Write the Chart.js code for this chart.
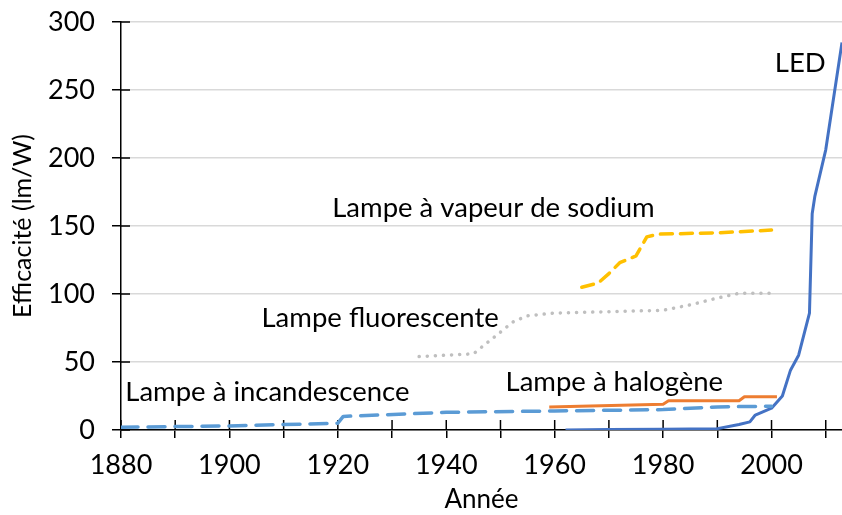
<!DOCTYPE html>
<html>
<head>
<meta charset="utf-8">
<script src="https://cdn.jsdelivr.net/npm/chart.js@4.4.1/dist/chart.umd.min.js"></script>
<style>
  body { margin: 0; background: #fff; }
  #wrap { width: 842px; height: 515px; }
</style>
</head>
<body>
<div id="wrap"><canvas id="chart"></canvas></div>
<script>
// données (année, efficacité en lm/W)
const incandYears = [1880, 1900, 1920, 1921, 1940, 1960, 1980, 1990, 2000];
const incandValues = [2, 3, 5, 10, 13, 14, 15, 17, 17.5];

const halogenYears = [1959, 1980, 1981, 1994, 1995, 2001];
const halogenValues = [17, 19, 21.5, 21.5, 24.5, 24.5];

const fluoYears = [1935, 1940, 1945, 1947.5, 1950, 1952.5, 1955, 1960, 1970, 1980, 1985, 1990, 1994, 2000];
const fluoValues = [54, 55, 56, 64, 72, 80, 84, 86, 87, 88, 92, 97, 100.5, 100.5];

const sodiumYears = [1965, 1968, 1970, 1972, 1975, 1977, 1979, 1990, 2000];
const sodiumValues = [105, 108, 115, 123, 128, 142, 144, 145, 147];

const ledYears = [1962, 1970, 1980, 1990, 1994, 1996, 1997, 2000, 2002, 2003.5, 2005, 2007, 2007.5, 2008, 2010, 2013];
const ledValues = [0, 0.3, 0.5, 1, 4, 6, 11, 16, 25, 44, 55, 86, 159, 172, 206, 285];

const xTickYears = [1880, 1890, 1900, 1910, 1920, 1930, 1940, 1950, 1960, 1970, 1980, 1990, 2000, 2010];
const yTickValues = [0, 50, 100, 150, 200, 250, 300];

const toPoints = (xs, ys) => xs.map((x, i) => ({ x: x, y: ys[i] }));

const FONT = 'Lato, "Open Sans", sans-serif';

// étiquettes posées dans le graphique
const seriesLabels = [
  { text: 'LED', x: 2005.3, y: 270 },
  { text: 'Lampe à vapeur de sodium', x: 1948.7, y: 163 },
  { text: 'Lampe fluorescente', x: 1927.8, y: 82 },
  { text: 'Lampe à halogène', x: 1971, y: 35 },
  { text: 'Lampe à incandescence', x: 1907, y: 28 }
];

const labelPlugin = {
  id: 'seriesLabels',
  afterDatasetsDraw(chart) {
    const { ctx, scales: { x, y } } = chart;
    ctx.save();
    ctx.font = '27.5px ' + FONT;
    ctx.fillStyle = '#000';
    ctx.textAlign = 'center';
    ctx.textBaseline = 'middle';
    seriesLabels.forEach(l => {
      ctx.fillText(l.text, x.getPixelForValue(l.x), y.getPixelForValue(l.y));
    });
    ctx.restore();
  }
};

// graduations qui traversent l'axe (style Excel)
const crossTicks = {
  id: 'crossTicks',
  beforeDatasetsDraw(chart) {
    const { ctx, scales: { x, y } } = chart;
    ctx.save();
    ctx.strokeStyle = '#000';
    ctx.lineWidth = 1.5;
    x.ticks.forEach(t => {
      const px = x.getPixelForValue(t.value);
      ctx.beginPath();
      ctx.moveTo(px, y.bottom);
      ctx.lineTo(px, y.bottom - 10);
      ctx.stroke();
    });
    y.ticks.forEach(t => {
      const py = y.getPixelForValue(t.value);
      ctx.beginPath();
      ctx.moveTo(x.left, py);
      ctx.lineTo(x.left + 9, py);
      ctx.stroke();
    });
    ctx.restore();
  }
};

new Chart(document.getElementById('chart').getContext('2d'), {
  type: 'scatter',
  data: {
    datasets: [{
      label: 'Lampe à incandescence',
      data: toPoints(incandYears, incandValues),
      borderColor: '#5B9BD5',
      borderWidth: 3.5,
      borderDash: [17, 10],
      borderCapStyle: 'round'
    }, {
      label: 'Lampe à halogène',
      data: toPoints(halogenYears, halogenValues),
      borderColor: '#ED7D31',
      borderWidth: 3
    }, {
      label: 'Lampe fluorescente',
      data: toPoints(fluoYears, fluoValues),
      borderColor: '#BFBFBF',
      borderWidth: 3.5,
      borderDash: [0.1, 8],
      borderCapStyle: 'round'
    }, {
      label: 'Lampe à vapeur de sodium',
      data: toPoints(sodiumYears, sodiumValues),
      borderColor: '#FFC000',
      borderWidth: 3.5,
      borderDash: [12, 8],
      borderCapStyle: 'round'
    }, {
      label: 'LED',
      data: toPoints(ledYears, ledValues),
      borderColor: '#4472C4',
      borderWidth: 3
    }]
  },
  options: {
    responsive: true,
    maintainAspectRatio: false,
    animation: false,
    showLine: true,
    elements: {
      point: { radius: 0, hoverRadius: 0 },
      line: { tension: 0, borderJoinStyle: 'round' }
    },
    layout: { padding: { top: 22, right: 0, left: 8, bottom: 0 } },
    plugins: {
      legend: { display: false },
      tooltip: { enabled: false }
    },
    scales: {
      x: {
        type: 'linear',
        min: 1880,
        max: 2013,
        afterBuildTicks: s => { s.ticks = xTickYears.map(v => ({ value: v })); },
        afterFit: s => { s.height = 85; s.paddingRight = 0; },
        border: { color: '#000', width: 1.5 },
        grid: { drawOnChartArea: false, color: '#000', tickLength: 8, lineWidth: 1.5 },
        ticks: {
          color: '#000',
          font: { family: FONT, size: 27 },
          padding: 11,
          maxRotation: 0,
          autoSkip: false,
          callback: v => (v % 20 === 0 ? String(v) : '')
        },
        title: {
          display: true,
          text: 'Année',
          color: '#000',
          font: { family: FONT, size: 26 },
          padding: { top: 0, bottom: 0 }
        }
      },
      y: {
        min: 0,
        max: 300,
        afterBuildTicks: s => { s.ticks = yTickValues.map(v => ({ value: v })); },
        afterFit: s => { s.width = 113; s.paddingTop = 0; s.paddingBottom = 0; },
        border: { color: '#000', width: 1.5 },
        grid: { color: '#D9D9D9', lineWidth: 1.5, tickColor: '#000', tickLength: 9 },
        ticks: {
          color: '#000',
          font: { family: FONT, size: 27 },
          padding: 17
        },
        title: {
          display: true,
          text: 'Efficacité (lm/W)',
          color: '#000',
          font: { family: FONT, size: 25 },
          padding: { top: 0, bottom: 0 }
        }
      }
    }
  },
  plugins: [crossTicks, labelPlugin]
});
</script>
</body>
</html>
